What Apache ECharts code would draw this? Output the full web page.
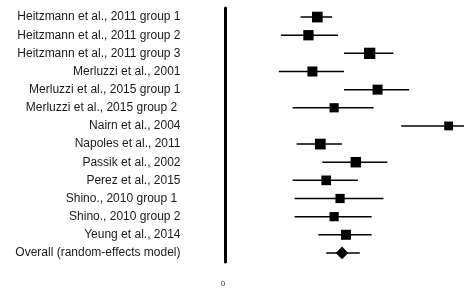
<!DOCTYPE html>
<html><head><meta charset="utf-8">
<script src="https://cdn.jsdelivr.net/npm/echarts@6/dist/echarts.min.js"></script>
<style>html,body{margin:0;padding:0;background:#fff}#c{width:464px;height:289px}</style>
</head><body><div id="c"></div>
<script>
const studies = [
  "Heitzmann et al., 2011 group 1",
  "Heitzmann et al., 2011 group 2",
  "Heitzmann et al., 2011 group 3",
  "Merluzzi et al., 2001",
  "Merluzzi et al., 2015 group 1",
  "Merluzzi et al., 2015 group 2 ",
  "Nairn et al., 2004",
  "Napoles et al., 2011",
  "Passik et al., 2002",
  "Perez et al., 2015",
  "Shino., 2010 group 1 ",
  "Shino., 2010 group 2",
  "Yeung et al., 2014",
  "Overall (random-effects model)"
];
const estimate = [0.465, 0.42, 0.73, 0.44, 0.77, 0.55, 1.13, 0.48, 0.66, 0.51, 0.58, 0.55, 0.61, 0.59];
const lower    = [0.38, 0.28, 0.60, 0.27, 0.60, 0.34, 0.89, 0.36, 0.49, 0.34, 0.35, 0.35, 0.47, 0.51];
const upper    = [0.54, 0.57, 0.85, 0.60, 0.93, 0.75, 1.37, 0.59, 0.82, 0.67, 0.80, 0.74, 0.74, 0.68];
const weights  = [1.07, 1.03, 1.13, 1.0, 1.0, 0.92, 0.88, 1.08, 1.05, 0.97, 0.92, 0.92, 1.0, 0];
const xTicks = [0];

const data = studies.map((s, i) => [i, estimate[i], lower[i], upper[i], weights[i]]);

const chart = echarts.init(document.getElementById('c'), null, {renderer: 'canvas'});
chart.setOption({
  animation: false,
  grid: {left: 225.5, right: 0, top: 8, bottom: 27},
  xAxis: {
    type: 'value', min: 0, max: 1.1925,
    splitLine: {show: false}, axisLine: {show: false}, axisTick: {show: false},
    axisLabel: {
      margin: 18, fontSize: 8, color: '#333', fontFamily: 'Liberation Sans',
      padding: [0, 5, 0, 0],
      formatter: v => xTicks.includes(v) ? String(v) : ''
    }
  },
  yAxis: {
    type: 'category', data: studies, inverse: true,
    axisLine: {show: true, lineStyle: {color: '#000', width: 3}},
    axisTick: {show: false}, splitLine: {show: false},
    axisLabel: {margin: 45, fontSize: 12, color: '#1a1a1a', fontFamily: 'Liberation Sans, Arial, sans-serif'}
  },
  series: [{
    type: 'custom',
    clip: false,
    data: data,
    encode: {x: [1, 2, 3], y: 0},
    renderItem: function (params, api) {
      const i = api.value(0);
      const est = api.coord([api.value(1), i]);
      const lo = api.coord([api.value(2), i]);
      const hi = api.coord([api.value(3), i]);
      const w = api.value(4);
      const children = [{
        type: 'line',
        shape: {x1: lo[0], y1: lo[1], x2: hi[0], y2: hi[1]},
        style: {stroke: '#000', lineWidth: 1.5}
      }];
      if (studies[i].startsWith('Overall')) {
        const hw = 6.3, hh = 6.4;
        children.push({
          type: 'polygon',
          shape: {points: [[est[0] - hw, est[1]], [est[0], est[1] - hh], [est[0] + hw, est[1]], [est[0], est[1] + hh]]},
          style: {fill: '#000'}
        });
      } else {
        const s = w * 10;
        children.push({
          type: 'rect',
          shape: {x: est[0] - s / 2, y: est[1] - s / 2, width: s, height: s},
          style: {fill: '#000'}
        });
      }
      return {type: 'group', children: children};
    }
  }]
});
</script></body></html>
